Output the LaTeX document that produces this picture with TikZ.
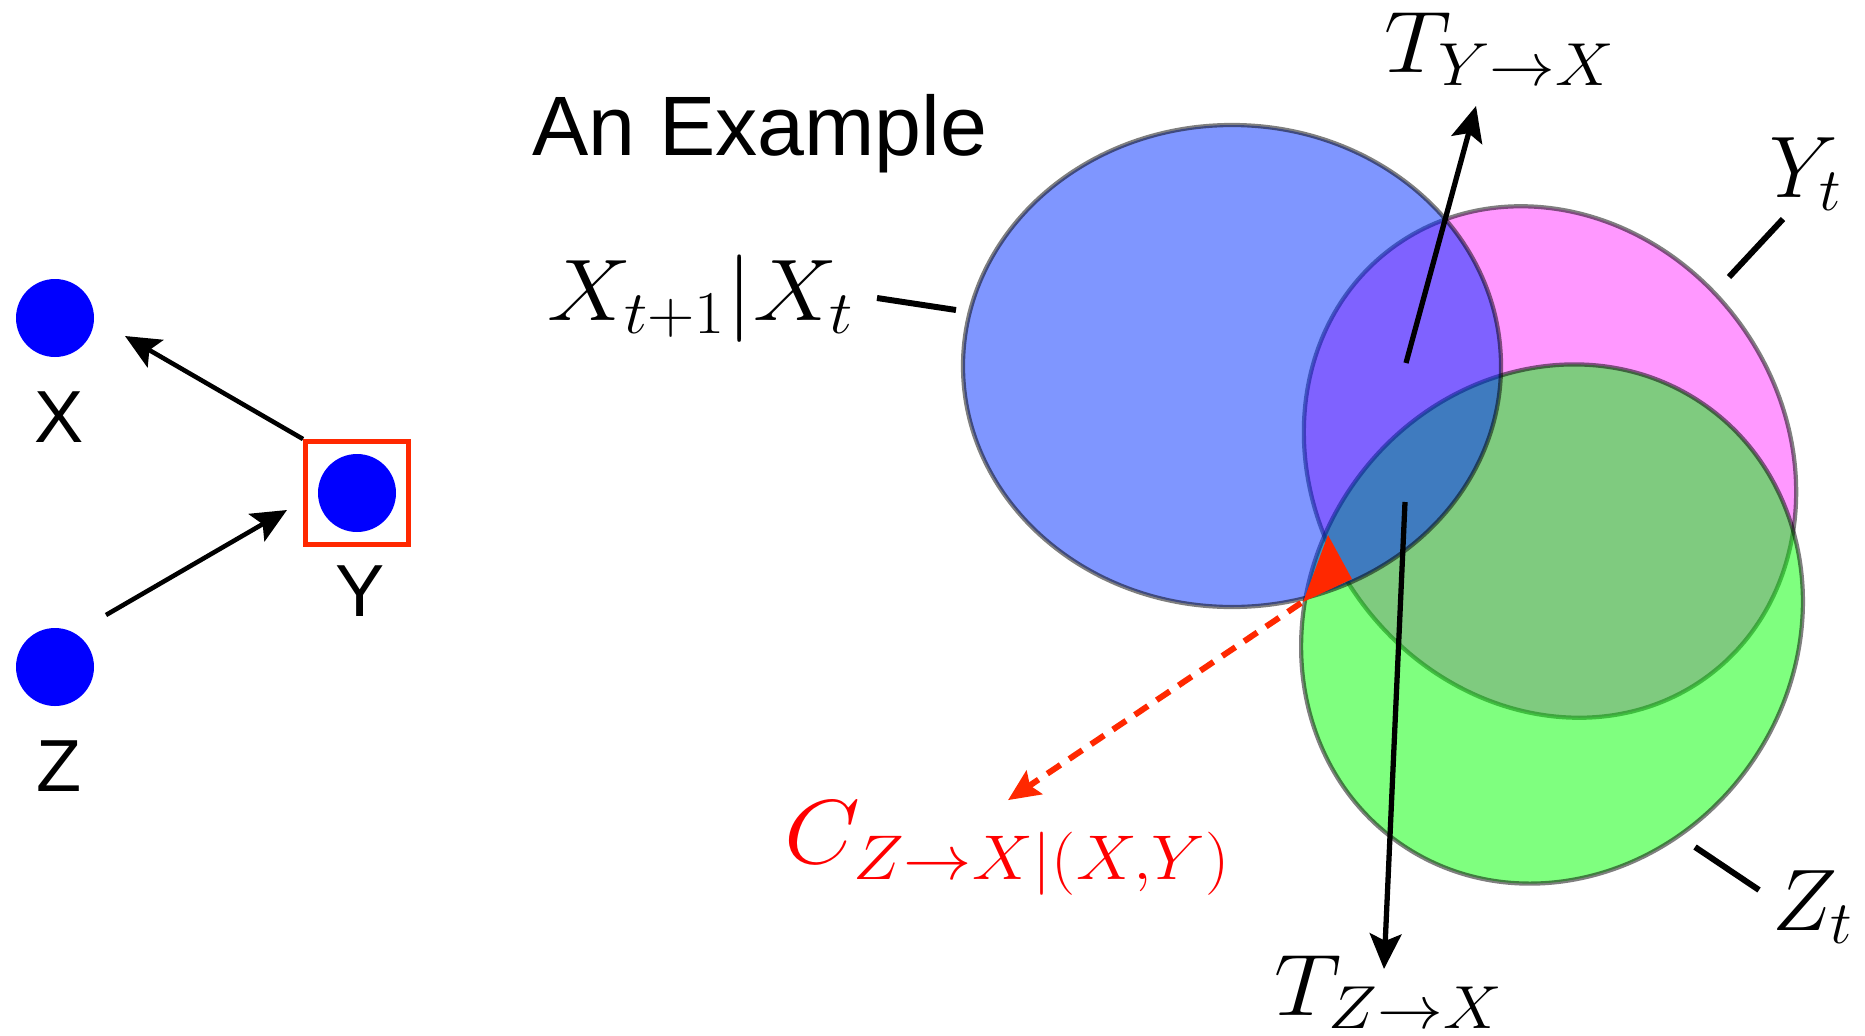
\documentclass[tikz,border=0pt]{standalone}
\usepackage{fontspec}
\setsansfont{Liberation Sans}
\usetikzlibrary{positioning, arrows.meta, calc}
\DeclareMathSizes{24.88}{24.88}{17.28}{12}
\definecolor{nodeblue}{RGB}{0,0,255}
\definecolor{setblue}{RGB}{0,45,255}
\definecolor{setpink}{RGB}{255,50,255}
\definecolor{setgreen}{RGB}{0,255,0}
\definecolor{markred}{RGB}{255,40,0}
\tikzset{
    vertex/.style={
        circle,
        fill=nodeblue,
        minimum size=0.78cm,
        inner sep=0pt
    },
    vlabel/.style={
        font=\sffamily\fontsize{21}{25}\selectfont,
        inner sep=0pt
    },
    selbox/.style={
        draw=markred,
        line width=1.4pt,
        minimum size=1.03cm,
        inner sep=0pt
    },
    causal/.style={
        line width=1.3pt,
        -{Stealth[length=10pt,width=9pt,inset=2pt]}
    },
    leader/.style={
        line width=1.7pt
    },
    venn/.style={
        line width=1.2pt,
        draw=black,
        draw opacity=0.5,
        fill opacity=0.5
    },
    mathlabel/.style={
        font=\Huge,
        inner sep=0pt
    },
    widelabel/.style={
        mathlabel,
        xscale=1.08,
        transform shape
    }
}

\begin{document}
\begin{tikzpicture}
  \useasboundingbox (0,0) rectangle (18.65,10.35);

  % the small graph
  \node[vertex,label={[vlabel,label distance=0.33cm,xshift=0.04cm]below:X}] (xdot) at (0.55,7.17) {};
  \node[vertex,label={[vlabel,label distance=0.32cm,xshift=0.03cm]below:Y}] (ydot) at (3.57,5.42) {};
  \node[vertex,label={[vlabel,label distance=0.33cm,xshift=0.04cm]below:Z}] (zdot) at (0.55,3.68) {};
  \node[selbox] (ybox) at (ydot) {};

  \coordinate (xtip) at (1.25,6.99);
  \coordinate (zfoot) at (1.06,4.20);
  \coordinate (ytip) at (2.87,5.25);
  \draw[causal] (ybox.north west) -- (xtip);
  \draw[causal] (zfoot) -- (ytip);

  \node[font=\sffamily\fontsize{24}{28}\selectfont, anchor=base west, inner sep=0pt] (title) at (5.32,8.80) {An Example};

  % the three sets
  \draw[venn, fill=setpink, rotate around={-54:(15.50,5.73)}] (15.50,5.73) ellipse [x radius=2.66, y radius=2.35];
  \draw[venn, fill=setgreen, rotate around={55.6:(15.52,4.11)}] (15.52,4.11) ellipse [x radius=2.67, y radius=2.43];
  \draw[venn, fill=setblue] (12.32,6.69) ellipse [x radius=2.69, y radius=2.41];

  \fill[markred] (13.28,5.00) -- (13.52,4.56) -- (13.03,4.33) -- cycle;
  \coordinate (cfoot) at (13.01,4.32);

  % labels
  \node[widelabel, anchor=base west] (xlab) at (5.47,7.15) {$X_{t+1}|X_t$};
  \node[widelabel, anchor=base] (tyx) at (15.00,9.63) {$T_{Y\rightarrow X}$};
  \node[widelabel, anchor=base] (tzx) at (13.89,0.2) {$T_{Z\rightarrow X}$};
  \node[mathlabel, anchor=base] (ylab) at (18.06,8.38) {$Y_t$};
  \node[mathlabel, anchor=base] (zlab) at (18.13,1.05) {$Z_t$};
  \node[widelabel, xscale=1.04, yscale=1.04, anchor=base, text=red] (clab) at (10.08,1.72) {$C_{Z\rightarrow X|(X,Y)}$};

  % pointers
  \coordinate (tyxfoot) at (14.06,6.72);
  \coordinate (tyxtip) at (14.76,9.29);
  \coordinate (tzxfoot) at (14.05,5.33);
  \coordinate (tzxtip) at (13.84,0.66);
  \draw[causal, line width=1.5pt] (tyxfoot) -- (tyxtip);
  \draw[causal, line width=1.5pt] (tzxfoot) -- (tzxtip);

  \coordinate (xl1) at (8.77,7.37);
  \coordinate (xl2) at (9.56,7.25);
  \coordinate (yl1) at (17.29,7.58);
  \coordinate (yl2) at (17.83,8.16);
  \coordinate (zl1) at (16.95,1.88);
  \coordinate (zl2) at (17.59,1.45);
  \draw[leader] (xl1) -- (xl2);
  \draw[leader] (yl1) -- (yl2);
  \draw[leader] (zl1) -- (zl2);

  \draw[markred, line width=1.7pt, dash pattern=on 4.5pt off 3pt,
        -{Stealth[length=9pt,width=8pt,inset=1.5pt]}] (cfoot) -- (clab.north);

\end{tikzpicture}
\end{document}
